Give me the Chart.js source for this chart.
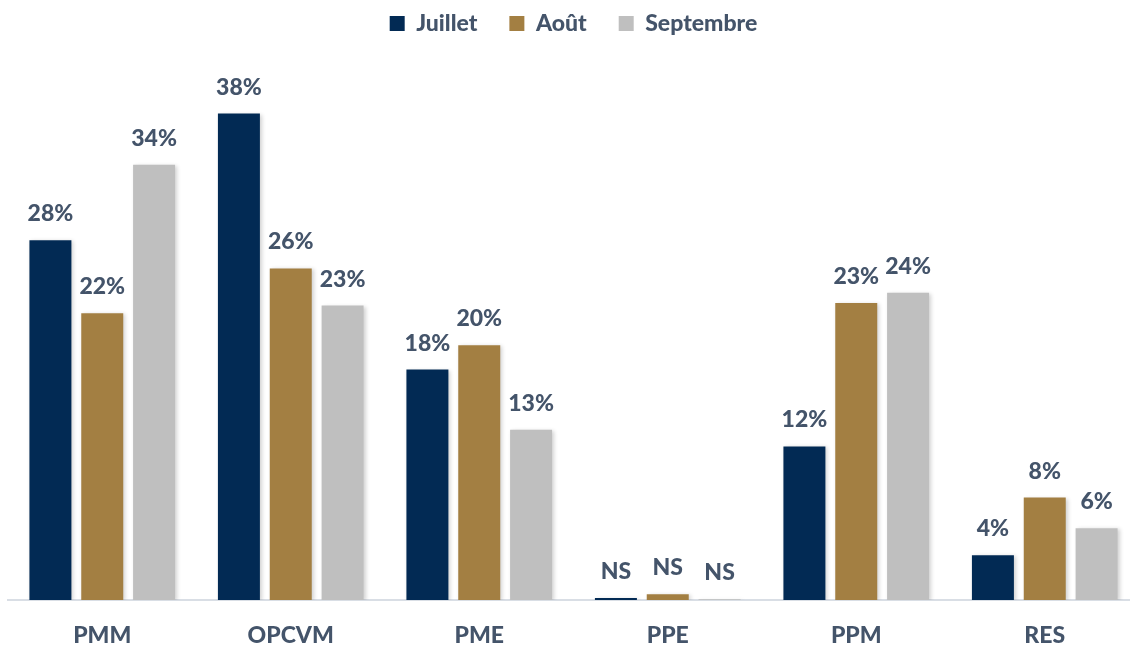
<!DOCTYPE html>
<html>
<head>
<meta charset="utf-8">
<script src="https://cdn.jsdelivr.net/npm/chart.js@4/dist/chart.umd.min.js"></script>
<style>
  html, body { margin: 0; padding: 0; background: #fff; overflow: hidden; }
  #wrap { width: 1130px; height: 646px; overflow: hidden; }
  canvas { display: block; }
</style>
</head>
<body>
<div id="wrap"><canvas id="chart" width="1139" height="646"></canvas></div>
<script>
// categories and series
const categories = ['PMM', 'OPCVM', 'PME', 'PPE', 'PPM', 'RES'];
const juillet = [28.1, 38, 18, 0.15, 12, 3.5];
const aout = [22.4, 25.9, 19.9, 0.45, 23.2, 8];
const septembre = [34, 23, 13.3, 0.05, 24, 5.6];
// printed labels
const juilletLabels = ['28%', '38%', '18%', 'NS', '12%', '4%'];
const aoutLabels = ['22%', '26%', '20%', 'NS', '23%', '8%'];
const septembreLabels = ['34%', '23%', '13%', 'NS', '24%', '6%'];

const textColor = '#44546a';
const fontFamily = 'Lato, "Open Sans", sans-serif';

// legend takes the whole band above the plot
const legendHeight = {
    id: 'legendHeight',
    beforeInit(chart) {
        const fit = chart.legend.fit;
        chart.legend.fit = function () {
            fit.bind(chart.legend)();
            this.height = 108;
        };
    }
};

// bar shadow
const shadowPlugin = {
    id: 'barShadow',
    beforeDatasetsDraw(chart) {
        const ctx = chart.ctx;
        ctx.save();
        ctx.shadowColor = 'rgba(0, 0, 0, 0.18)';
        ctx.shadowBlur = 4;
        ctx.shadowOffsetX = 2;
        ctx.shadowOffsetY = 1;
    },
    afterDatasetsDraw(chart) {
        chart.ctx.restore();
    }
};

// value labels above bars
const valueLabels = {
    id: 'valueLabels',
    afterDatasetsDraw(chart) {
        const ctx = chart.ctx;
        ctx.save();
        ctx.fillStyle = textColor;
        ctx.font = '900 23px ' + fontFamily;
        ctx.textAlign = 'center';
        ctx.textBaseline = 'alphabetic';
        chart.data.datasets.forEach((ds, i) => {
            const meta = chart.getDatasetMeta(i);
            meta.data.forEach((bar, j) => {
                ctx.fillText(ds.printed[j], bar.x, bar.y - 19);
            });
        });
        ctx.restore();
    }
};

new Chart(document.getElementById('chart'), {
    type: 'bar',
    data: {
        labels: categories,
        datasets: [
            { label: 'Juillet', data: juillet, printed: juilletLabels, backgroundColor: '#022a54' },
            { label: 'Août', data: aout, printed: aoutLabels, backgroundColor: '#a37f42' },
            { label: 'Septembre', data: septembre, printed: septembreLabels, backgroundColor: '#bfbfbf' }
        ]
    },
    options: {
        responsive: false,
        animation: false,
        datasets: {
            bar: {
                categoryPercentage: 0.825,
                barPercentage: 0.81
            }
        },
        layout: {
            padding: { left: 8, right: 0, top: -20, bottom: 0 }
        },
        plugins: {
            legend: {
                position: 'top',
                labels: {
                    usePointStyle: true,
                    pointStyle: 'rect',
                    boxWidth: 15,
                    boxHeight: 15,
                    padding: 32,
                    color: textColor,
                    font: { size: 23, weight: '900', family: fontFamily }
                }
            },
            tooltip: { enabled: false }
        },
        scales: {
            x: {
                grid: { display: false },
                border: { color: '#d9dee5', width: 2 },
                afterFit(scale) {
                    scale.height = 46;
                },
                ticks: {
                    color: textColor,
                    padding: 14,
                    font: { size: 23, weight: '900', family: fontFamily }
                }
            },
            y: {
                display: false,
                min: 0,
                max: 40
            }
        }
    },
    plugins: [legendHeight, shadowPlugin, valueLabels]
});
</script>
</body>
</html>
